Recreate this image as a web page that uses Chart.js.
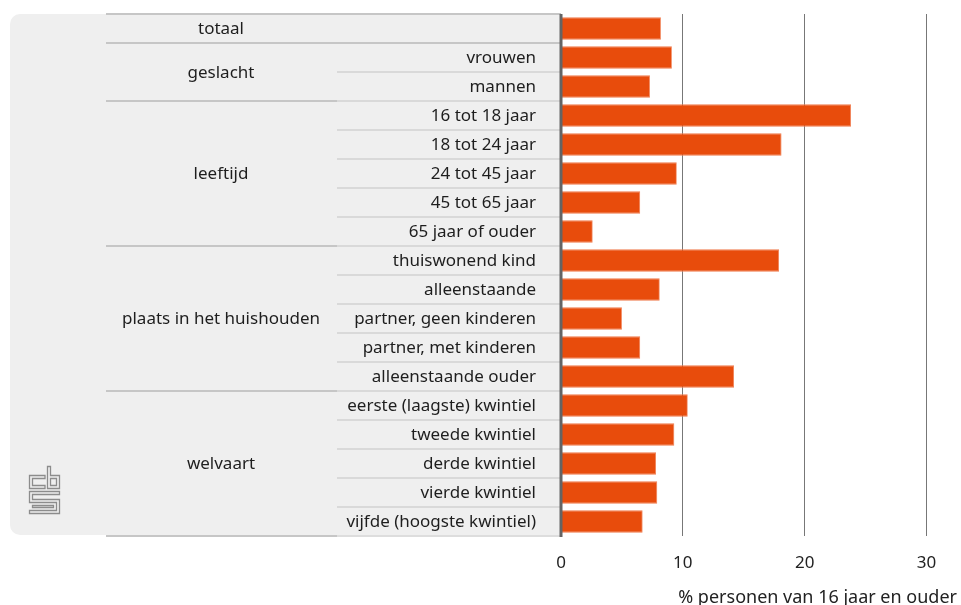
<!DOCTYPE html>
<html>
<head>
<meta charset="utf-8">
<script src="https://cdn.jsdelivr.net/npm/chart.js@4"></script>
<style>
  body { margin: 0; background: #fff; }
</style>
</head>
<body>
<canvas id="myChart" width="961" height="605"></canvas>
<script>
// rows of the chart, top to bottom
const categories = [
  '',
  'vrouwen', 'mannen',
  '16 tot 18 jaar', '18 tot 24 jaar', '24 tot 45 jaar', '45 tot 65 jaar', '65 jaar of ouder',
  'thuiswonend kind', 'alleenstaande', 'partner, geen kinderen', 'partner, met kinderen', 'alleenstaande ouder',
  'eerste (laagste) kwintiel', 'tweede kwintiel', 'derde kwintiel', 'vierde kwintiel', 'vijfde (hoogste kwintiel)'
];
const groups = ['totaal', 'geslacht', 'leeftijd', 'plaats in het huishouden', 'welvaart'];
const groupSizes = [1, 2, 5, 5, 5];
const values = [8.2, 9.1, 7.3, 23.8, 18.1, 9.5, 6.5, 2.6, 17.9, 8.1, 5.0, 6.5, 14.2, 10.4, 9.3, 7.8, 7.9, 6.7];
const xTicks = [0, 10, 20, 30];
const axisTitle = '% personen van 16 jaar en ouder';

const FONT = '"Noto Sans", sans-serif';

const leftPanel = {
  id: 'leftPanel',
  beforeDraw(chart) {
    const ctx = chart.ctx;
    const area = chart.chartArea;
    const y = chart.scales.y;
    const rowTop = i => i === 0 ? area.top : (y.getPixelForValue(i - 1) + y.getPixelForValue(i)) / 2;
    const rowBottom = i => i === categories.length - 1 ? area.bottom : (y.getPixelForValue(i) + y.getPixelForValue(i + 1)) / 2;

    ctx.save();
    // grey panel
    ctx.fillStyle = '#efefef';
    ctx.beginPath();
    ctx.roundRect(10, area.top, area.left - 10, area.bottom - 1 - area.top, [10, 0, 0, 10]);
    ctx.fill();

    // item separators
    ctx.strokeStyle = '#d2d2d2';
    ctx.lineWidth = 1.5;
    for (let i = 0; i <= categories.length; i++) {
      const py = i < categories.length ? rowTop(i) : area.bottom;
      ctx.beginPath();
      ctx.moveTo(337, py);
      ctx.lineTo(area.left, py);
      ctx.stroke();
    }

    // group separators + labels
    ctx.strokeStyle = '#c6c6c6';
    ctx.lineWidth = 2;
    ctx.font = '17px ' + FONT;
    ctx.fillStyle = '#1e1e1e';
    ctx.textAlign = 'center';
    ctx.textBaseline = 'middle';
    let start = 0;
    groups.forEach((g, gi) => {
      const end = start + groupSizes[gi] - 1;
      const top = rowTop(start);
      const bottom = rowBottom(end);
      ctx.beginPath();
      ctx.moveTo(106, top);
      ctx.lineTo(gi === 0 ? area.left : 337, top);
      ctx.stroke();
      if (gi === 0) {
        ctx.beginPath();
        ctx.moveTo(106, bottom);
        ctx.lineTo(area.left, bottom);
        ctx.stroke();
      }
      ctx.fillText(g, 221, (top + bottom) / 2 + 1);
      start = end + 1;
    });
    ctx.beginPath();
    ctx.moveTo(106, area.bottom);
    ctx.lineTo(337, area.bottom);
    ctx.stroke();

    // item labels
    ctx.textAlign = 'right';
    categories.forEach((c, i) => {
      if (c) ctx.fillText(c, 536, y.getPixelForValue(i) + 1);
    });

    // cbs logo
    ctx.strokeStyle = '#8c8c8c';
    ctx.lineWidth = 1.3;
    ctx.beginPath();
    // c
    ctx.moveTo(45, 475.5); ctx.lineTo(29.5, 475.5); ctx.lineTo(29.5, 488.5); ctx.lineTo(45, 488.5);
    ctx.lineTo(45, 485.5); ctx.lineTo(32.5, 485.5); ctx.lineTo(32.5, 478.5); ctx.lineTo(45, 478.5); ctx.closePath();
    // b
    ctx.moveTo(47.5, 466.5); ctx.lineTo(50.5, 466.5); ctx.lineTo(50.5, 475.5); ctx.lineTo(59.5, 475.5);
    ctx.lineTo(59.5, 488.5); ctx.lineTo(47.5, 488.5); ctx.closePath();
    ctx.rect(50.5, 478.5, 6, 7);
    // s
    ctx.moveTo(29.5, 491.5); ctx.lineTo(59.5, 491.5); ctx.lineTo(59.5, 494.5); ctx.lineTo(32.5, 494.5);
    ctx.lineTo(32.5, 499.5); ctx.lineTo(59.5, 499.5); ctx.lineTo(59.5, 513.5); ctx.lineTo(29.5, 513.5);
    ctx.lineTo(29.5, 510.5); ctx.lineTo(56.5, 510.5); ctx.lineTo(56.5, 502.5); ctx.lineTo(29.5, 502.5); ctx.closePath();
    ctx.moveTo(32.5, 505.5); ctx.lineTo(53.5, 505.5); ctx.lineTo(53.5, 507.5); ctx.lineTo(32.5, 507.5); ctx.closePath();
    ctx.stroke();
    ctx.restore();
  },
  afterDatasetsDraw(chart) {
    const ctx = chart.ctx;
    const area = chart.chartArea;
    const x0 = chart.scales.x.getPixelForValue(0);
    ctx.save();
    ctx.strokeStyle = '#646464';
    ctx.lineWidth = 3;
    ctx.beginPath();
    ctx.moveTo(x0, area.top);
    ctx.lineTo(x0, area.bottom + 1);
    ctx.stroke();
    ctx.restore();
  }
};

new Chart(document.getElementById('myChart').getContext('2d'), {
  type: 'bar',
  data: {
    labels: categories,
    datasets: [{
      data: values,
      backgroundColor: '#e84c0c',
      borderColor: '#f07a4c',
      borderWidth: 0.8,
      barPercentage: 0.77,
      categoryPercentage: 1
    }]
  },
  options: {
    indexAxis: 'y',
    responsive: false,
    animation: false,
    layout: { padding: { left: 561, top: 14, right: 4, bottom: 0 } },
    plugins: { legend: { display: false }, tooltip: { enabled: false } },
    scales: {
      y: { display: false },
      x: {
        min: 0,
        max: 32.5,
        afterBuildTicks: axis => { axis.ticks = xTicks.map(v => ({ value: v })); },
        ticks: { font: { family: FONT, size: 17 }, color: '#222', padding: 17, maxRotation: 0 },
        grid: {
          color: c => (c.tick && c.tick.value === 0) ? 'rgba(0,0,0,0)' : '#777',
          lineWidth: 1,
          drawTicks: false
        },
        border: { display: false },
        title: {
          display: true,
          text: axisTitle,
          align: 'end',
          color: '#222',
          font: { family: FONT, size: 18 },
          padding: { top: -3, bottom: -4 }
        }
      }
    }
  },
  plugins: [leftPanel]
});
</script>
</body>
</html>
